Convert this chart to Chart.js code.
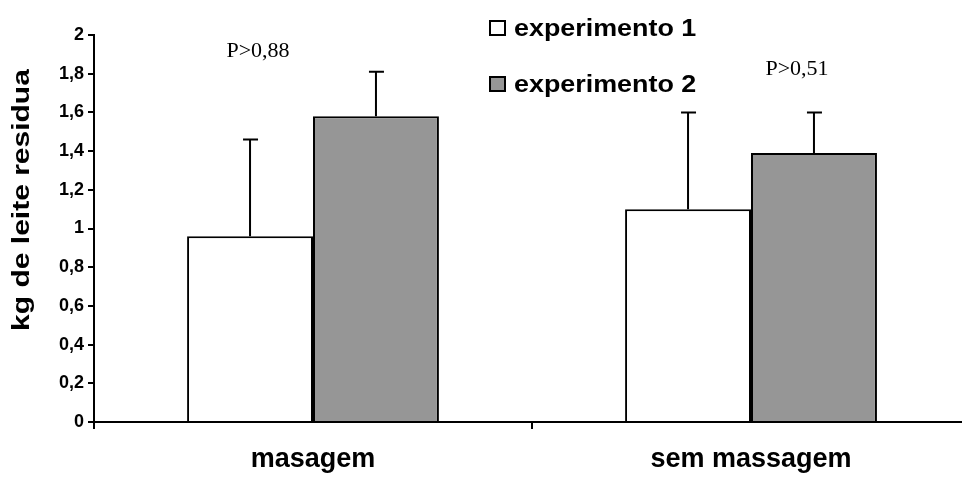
<!DOCTYPE html>
<html>
<head>
<meta charset="utf-8">
<script src="https://cdn.jsdelivr.net/npm/chart.js@4/dist/chart.umd.min.js"></script>
<style>
  html, body { margin: 0; padding: 0; background: #fff; overflow: hidden; }
  #wrap { width: 970px; height: 478px; }
</style>
</head>
<body>
<div id="wrap"><canvas id="c" width="970" height="478"></canvas></div>
<script>
// Categories and series values
const categories = ['masagem', 'sem massagem'];
const seriesNames = ['experimento 1', 'experimento 2'];
const exp1 = [0.96, 1.10];
const exp1Err = [0.50, 0.50];
const exp2 = [1.58, 1.39];
const exp2Err = [0.23, 0.21];
const pLabels = ['P>0,88', 'P>0,51'];
const yTicks = [0, 0.2, 0.4, 0.6, 0.8, 1, 1.2, 1.4, 1.6, 1.8, 2];
const yTitle = 'kg de leite residua';

const SANS = '"Liberation Sans", Arial, sans-serif';
const SERIF = '"Liberation Serif", "Times New Roman", serif';
const GREY = '#969696';

// Upward-only error bars with a cap
const errorBars = {
  id: 'errorBars',
  afterDatasetsDraw(chart) {
    const ctx = chart.ctx;
    const y = chart.scales.y;
    chart.data.datasets.forEach((ds, di) => {
      const meta = chart.getDatasetMeta(di);
      meta.data.forEach((bar, i) => {
        const top = y.getPixelForValue(ds.data[i] + ds.errors[i]);
        ctx.save();
        ctx.strokeStyle = '#000';
        ctx.lineWidth = 2;
        ctx.beginPath();
        ctx.moveTo(bar.x, bar.y);
        ctx.lineTo(bar.x, top);
        ctx.moveTo(bar.x - 7, top);
        ctx.lineTo(bar.x + 8, top);
        ctx.stroke();
        ctx.restore();
      });
    });
  }
};

// Text drawn with a wide set width (horizontal stretch along the baseline)
function wideText(ctx, text, x, y, sx) {
  ctx.save();
  ctx.translate(x, y);
  ctx.scale(sx, 1);
  ctx.fillText(text, 0, 0);
  ctx.restore();
}

// Axis title, legend boxes and the significance notes
const annotations = {
  id: 'annotations',
  afterDraw(chart) {
    const ctx = chart.ctx;
    const x = chart.scales.x;
    const y = chart.scales.y;
    ctx.save();
    ctx.fillStyle = '#000';

    // vertical axis title
    ctx.save();
    ctx.translate(22.5, 200);
    ctx.rotate(-Math.PI / 2);
    ctx.font = 'bold 24px ' + SANS;
    ctx.textAlign = 'center';
    ctx.textBaseline = 'middle';
    ctx.scale(1.25, 1);
    ctx.fillText(yTitle, 0, 0);
    ctx.restore();

    // legend
    const fills = ['#ffffff', GREY];
    const rows = [20, 76];
    ctx.font = 'bold 24px ' + SANS;
    ctx.textBaseline = 'alphabetic';
    ctx.textAlign = 'left';
    seriesNames.forEach((name, i) => {
      ctx.fillStyle = fills[i];
      ctx.fillRect(490, rows[i] + 1, 15, 14);
      ctx.strokeStyle = '#000';
      ctx.lineWidth = 2;
      ctx.strokeRect(490, rows[i] + 1, 15, 14);
      ctx.fillStyle = '#000';
      wideText(ctx, name, 514, rows[i] + 16, 1.12);
    });

    // p-values above each group
    ctx.font = '22px ' + SERIF;
    ctx.textAlign = 'center';
    const offsets = [-55, 46];
    const levels = [1.888, 1.793];
    pLabels.forEach((t, i) => {
      ctx.fillText(t, x.getPixelForValue(i) + offsets[i], y.getPixelForValue(levels[i]));
    });
    ctx.restore();
  }
};

new Chart(document.getElementById('c'), {
  type: 'bar',
  data: {
    labels: categories,
    datasets: [
      { label: seriesNames[0], data: exp1, errors: exp1Err, backgroundColor: '#ffffff',
        borderColor: '#000', borderWidth: 2 },
      { label: seriesNames[1], data: exp2, errors: exp2Err, backgroundColor: GREY,
        borderColor: '#000', borderWidth: 2 }
    ]
  },
  options: {
    responsive: false,
    animation: false,
    events: [],
    layout: { padding: { top: 35, right: 0, left: 0, bottom: 0 } },
    datasets: { bar: { categoryPercentage: 0.575, barPercentage: 1.0 } },
    plugins: { legend: { display: false }, tooltip: { enabled: false } },
    scales: {
      x: {
        grid: { offset: true, drawOnChartArea: false, color: '#000', lineWidth: 2, tickLength: 7 },
        border: { color: '#000', width: 2 },
        ticks: { color: '#000', font: { family: SANS, size: 27, weight: 'bold' }, padding: 14 },
        afterFit(s) { s.height = 56; }
      },
      y: {
        min: 0, max: 2,
        afterBuildTicks(s) { s.ticks = yTicks.map(v => ({ value: v })); },
        grid: { drawOnChartArea: false, color: '#000', lineWidth: 2, tickLength: 6 },
        border: { color: '#000', width: 2 },
        ticks: {
          color: '#000', padding: 4,
          font: { family: SANS, size: 18, weight: 'bold' },
          callback: v => String(Number(v.toFixed(1))).replace('.', ',')
        },
        afterFit(s) { s.width = 94; }
      }
    }
  },
  plugins: [errorBars, annotations]
});
</script>
</body>
</html>
